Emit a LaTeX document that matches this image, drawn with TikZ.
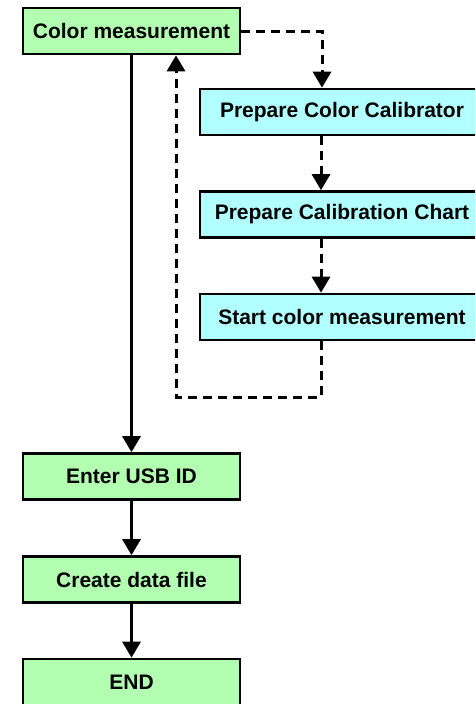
\documentclass[tikz,border=0pt]{standalone}
\usepackage{fontspec}
\setmainfont{Liberation Sans}
\usetikzlibrary{arrows.meta}
\definecolor{boxgreen}{RGB}{178,255,178}
\definecolor{boxcyan}{RGB}{178,255,255}
\tikzset{
  gbox/.style={draw=black, line width=2.6pt, fill=boxgreen, minimum width=217pt, minimum height=46pt, inner sep=0pt,
    font=\fontsize{21}{25}\selectfont\bfseries},
  cbox/.style={gbox, fill=boxcyan, minimum width=284pt},
  flow/.style={line width=3pt, -{Triangle[length=16pt,width=18pt]}},
  dflow/.style={flow, dash pattern=on 9pt off 6pt},
}
\begin{document}
\begin{tikzpicture}[x=1pt,y=-1pt]
\useasboundingbox (0,0) rectangle (475,704);
\clip (0,0) rectangle (475,704);
\fill[white] (0,0) rectangle (475,704);
\node[gbox] (cm) at (131.5,31) {Color measurement};
\node[cbox] (pcc) at (342,112) {Prepare Color Calibrator};
\node[cbox] (pch) at (342,214.5) {Prepare Calibration Chart};
\node[cbox] (scm) at (342,317) {Start color measurement};
\node[gbox] (usb) at (131.5,476.5) {Enter USB ID};
\node[gbox] (cdf) at (131.5,579.5) {Create data file};
\node[gbox] (end) at (131.5,682) {END};

\draw[flow] (cm.south) -- (usb.north);
\draw[flow] (usb.south) -- (cdf.north);
\draw[flow] (cdf.south) -- (end.north);

\draw[dflow] (cm.east) -| ([xshift=-20pt]pcc.north);
\draw[dflow] ([xshift=-21pt]pcc.south) -- ([xshift=-21pt]pch.north);
\draw[dflow] ([xshift=-21pt]pch.south) -- ([xshift=-21pt]scm.north);
\coordinate (loop) at ([xshift=-21pt,yshift=-56pt]scm.south);
\draw[dflow] ([xshift=-21pt]scm.south) -- (loop) -| ([xshift=44.5pt]cm.south);
\end{tikzpicture}
\end{document}
